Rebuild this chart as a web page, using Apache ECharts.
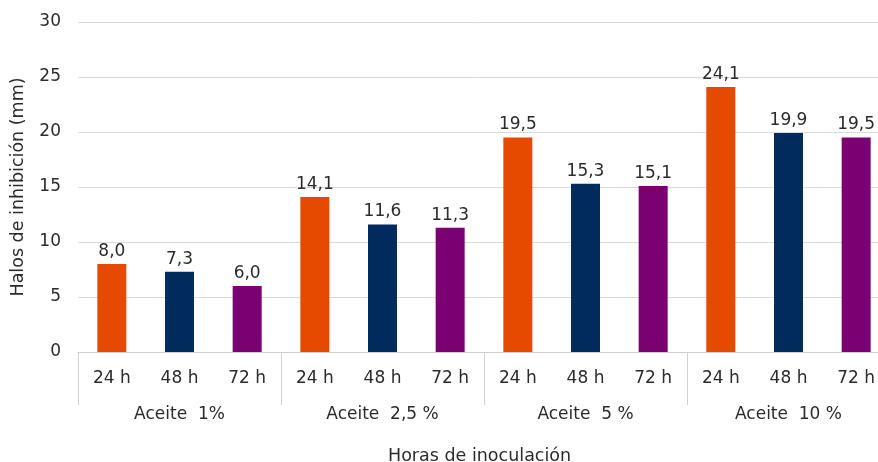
<!DOCTYPE html>
<html><head><meta charset="utf-8">
<script src="https://cdn.jsdelivr.net/npm/echarts@6/dist/echarts.min.js"></script>
<style>html,body{margin:0;padding:0;background:#fff}#c{width:878px;height:462px}</style>
</head><body><div id="c"></div>
<script>
const hours = ['24 h','48 h','72 h','24 h','48 h','72 h','24 h','48 h','72 h','24 h','48 h','72 h'];
const groups = ['Aceite  1%','Aceite  2,5 %','Aceite  5 %','Aceite  10 %'];
const values = [8.0, 7.3, 6.0, 14.1, 11.6, 11.3, 19.5, 15.3, 15.1, 24.1, 19.9, 19.5];
const hourColors = ['#E64A00','#002B5C','#7B0072'];
const yTicks = [0, 5, 10, 15, 20, 25, 30];

const font = 'DejaVu Sans, Verdana, sans-serif';
const txt = '#2b2b2b';
const chart = echarts.init(document.getElementById('c'));
chart.setOption({
  animation: false,
  grid: {left: 78, top: 22, width: 812, height: 330, containLabel: false, outerBoundsMode: 'none'},
  xAxis: [{
    type: 'category', data: hours, position: 'bottom',
    axisLine: {show: true, lineStyle: {color: '#d0d0d0', width: 1}},
    axisTick: {show: false},
    axisLabel: {color: txt, fontFamily: font, fontSize: 17, margin: 18}
  }, {
    type: 'category', data: groups, position: 'bottom',
    axisLine: {show: false},
    axisTick: {show: true, length: 53, lineStyle: {color: '#d0d0d0'}},
    axisLabel: {color: txt, fontFamily: font, fontSize: 17, margin: 54}
  }],
  yAxis: {
    type: 'value', min: yTicks[0], max: yTicks[yTicks.length-1], interval: 5,
    name: 'Halos de inhibición (mm)', nameLocation: 'middle', nameGap: 51,
    nameTextStyle: {color: txt, fontFamily: font, fontSize: 17.5},
    axisLine: {show: false}, axisTick: {show: false},
    axisLabel: {color: txt, fontFamily: font, fontSize: 17, margin: 17},
    splitLine: {lineStyle: {color: '#d9d9d9'}}
  },
  graphic: [{
    type: 'text', left: 388, top: 447,
    style: {text: 'Horas de inoculación', fill: txt, font: '17.5px ' + font}
  }],
  series: [{
    type: 'bar', xAxisIndex: 0, barWidth: 29,
    data: values.map((v, i) => ({value: v, itemStyle: {color: hourColors[i % 3]}})),
    label: {show: true, position: 'top', distance: 4, color: txt, fontFamily: font, fontSize: 17,
      formatter: p => p.value.toFixed(1).replace('.', ',')}
  }]
});
</script></body></html>
